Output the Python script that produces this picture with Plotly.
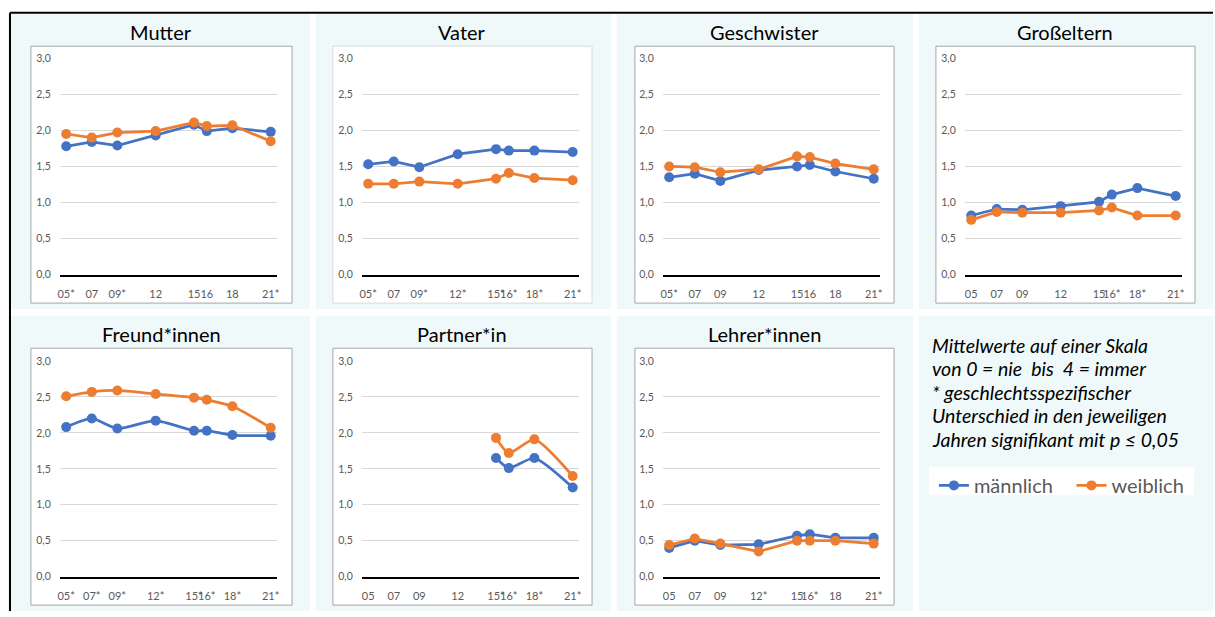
import plotly.graph_objects as go

# ---------------- data ----------------
years = [2005, 2007, 2009, 2012, 2015, 2016, 2018, 2021]

panel_titles = ["Mutter", "Vater", "Geschwister", "Großeltern",
                "Freund*innen", "Partner*in", "Lehrer*innen"]

mutter_m = [1.78, 1.84, 1.79, 1.93, 2.08, 1.99, 2.03, 1.98]
mutter_w = [1.95, 1.90, 1.97, 1.99, 2.11, 2.06, 2.07, 1.85]
vater_m = [1.53, 1.57, 1.49, 1.67, 1.74, 1.72, 1.72, 1.70]
vater_w = [1.26, 1.26, 1.29, 1.26, 1.33, 1.41, 1.34, 1.31]
geschwister_m = [1.35, 1.40, 1.30, 1.45, 1.50, 1.52, 1.43, 1.33]
geschwister_w = [1.50, 1.49, 1.42, 1.46, 1.64, 1.63, 1.54, 1.46]
grosseltern_m = [0.82, 0.91, 0.90, 0.95, 1.01, 1.11, 1.20, 1.09]
grosseltern_w = [0.76, 0.87, 0.86, 0.86, 0.89, 0.93, 0.82, 0.82]
freunde_m = [2.08, 2.20, 2.06, 2.17, 2.03, 2.03, 1.97, 1.96]
freunde_w = [2.51, 2.57, 2.59, 2.54, 2.49, 2.46, 2.37, 2.07]
partner_m = [None, None, None, None, 1.65, 1.51, 1.65, 1.24]
partner_w = [None, None, None, None, 1.93, 1.72, 1.91, 1.40]
lehrer_m = [0.40, 0.50, 0.44, 0.45, 0.57, 0.59, 0.54, 0.54]
lehrer_w = [0.44, 0.53, 0.46, 0.35, 0.50, 0.50, 0.50, 0.46]

ticks_mutter = ["05*", "07", "09*", "12", "15", "16", "18", "21*"]
ticks_vater = ["05*", "07", "09*", "12*", "15*", "16*", "18*", "21*"]
ticks_geschwister = ["05*", "07", "09", "12", "15", "16", "18", "21*"]
ticks_grosseltern = ["05", "07", "09", "12", "15", "16*", "18*", "21*"]
ticks_freunde = ["05*", "07*", "09*", "12*", "15*", "16*", "18*", "21*"]
ticks_partner = ["05", "07", "09", "12", "15*", "16*", "18*", "21*"]
ticks_lehrer = ["05", "07", "09", "12*", "15", "16*", "18", "21*"]

y_ticks = [0, 0.5, 1.0, 1.5, 2.0, 2.5, 3.0]
y_ticktext = ["0,0", "0,5", "1,0", "1,5", "2,0", "2,5", "3,0"]

series_m = [mutter_m, vater_m, geschwister_m, grosseltern_m, freunde_m, partner_m, lehrer_m]
series_w = [mutter_w, vater_w, geschwister_w, grosseltern_w, freunde_w, partner_w, lehrer_w]
tick_sets = [ticks_mutter, ticks_vater, ticks_geschwister, ticks_grosseltern,
             ticks_freunde, ticks_partner, ticks_lehrer]
smooth = [False, False, False, False, True, True, False]

note_lines = ["Mittelwerte auf einer Skala",
              "von 0 = nie  bis  4 = immer",
              "* geschlechtsspezifischer",
              "Unterschied in den jeweiligen",
              "Jahren signifikant mit p ≤ 0,05"]

# ---------------- layout geometry (pixels) ----------------
W, H = 1215, 617
BLUE, ORANGE = "#4472C4", "#ED7D31"
CYAN = "#EFF9F9"
FONT = "Lato"

grid_x0 = [58, 361, 663, 966]
grid_w = 218
row_y = [(53.3, 274), (362, 582)]
box_x = [(29, 291), (332, 592), (635, 895), (937, 1197)]
box_y = [(41, 303), (349, 611)]
panel_x = [(9, 309), (315, 611), (617, 914), (920, 1215)]
panel_y = [(8, 309), (316, 617)]
title_y = [27, 335]


def px(x):
    return x / W


def py(y):
    return 1 - y / H


fig = go.Figure()
shapes = []
annotations = []

# cyan panels
for r in range(2):
    for c in range(4):
        shapes.append(dict(type="rect", xref="paper", yref="paper",
                           x0=px(panel_x[c][0]), x1=px(panel_x[c][1]),
                           y0=py(panel_y[r][1]), y1=py(panel_y[r][0]),
                           fillcolor=CYAN, line=dict(width=0), layer="below"))

layout_axes = {}
for i in range(7):
    r, c = divmod(i, 4)
    n = i + 1
    xa = "x" if n == 1 else f"x{n}"
    ya = "y" if n == 1 else f"y{n}"
    border = "#D9D9D9" if i == 1 else "#A6A6A6"
    shapes.append(dict(type="rect", xref="paper", yref="paper",
                       x0=px(box_x[c][0]), x1=px(box_x[c][1]),
                       y0=py(box_y[r][1]), y1=py(box_y[r][0]),
                       fillcolor="white", line=dict(color=border, width=1),
                       layer="below"))
    annotations.append(dict(text=panel_titles[i], xref="paper", yref="paper",
                            x=px((box_x[c][0] + box_x[c][1]) / 2), y=py(title_y[r]),
                            xanchor="center", yanchor="middle", showarrow=False,
                            font=dict(family=FONT, size=20, color="black")))
    shape_kind = "spline" if smooth[i] else "linear"
    for vals, name, col, lg in [(series_m[i], "männlich", BLUE, "legend"),
                                (series_w[i], "weiblich", ORANGE, "legend2")]:
        fig.add_trace(go.Scatter(
            x=years, y=vals, mode="lines+markers", name=name,
            line=dict(color=col, width=2.75, shape=shape_kind, smoothing=0.6),
            marker=dict(color=col, size=10),
            xaxis=xa, yaxis=ya, showlegend=(i == 0), legend=lg, cliponaxis=False,
            connectgaps=False))
    layout_axes["xaxis" if n == 1 else f"xaxis{n}"] = dict(
        domain=[px(grid_x0[c]), px(grid_x0[c] + grid_w)],
        range=[2004.5, 2021.5], anchor=ya,
        tickmode="array", tickvals=years, ticktext=tick_sets[i], tickangle=0,
        showgrid=False, zeroline=False, showline=True, linecolor="black", linewidth=2,
        ticks="", ticklabelstandoff=8,
        tickfont=dict(family=FONT, size=11, color="#595959"), fixedrange=True)
    layout_axes["yaxis" if n == 1 else f"yaxis{n}"] = dict(
        domain=[py(row_y[r][1]), py(row_y[r][0])],
        range=[0, 3], anchor=xa,
        tickmode="array", tickvals=y_ticks, ticktext=y_ticktext,
        showgrid=True, gridcolor="#D9D9D9", gridwidth=1, zeroline=False,
        showline=False, ticks="", ticklabelstandoff=8,
        tickfont=dict(family=FONT, size=10.5, color="#595959"), fixedrange=True)

# black frame lines
shapes.append(dict(type="line", xref="paper", yref="paper",
                   x0=px(8), x1=px(W), y0=py(7), y1=py(7),
                   line=dict(color="black", width=2)))
shapes.append(dict(type="line", xref="paper", yref="paper",
                   x0=px(8), x1=px(8), y0=py(7), y1=py(H),
                   line=dict(color="black", width=2)))

# note text
for k, line in enumerate(note_lines):
    annotations.append(dict(text=f"<i>{line}</i>", xref="paper", yref="paper",
                            x=px(931), y=py(346 + 24 * k), xanchor="left", yanchor="middle",
                            showarrow=False, font=dict(family=FONT, size=19.5, color="black")))

# legend background
shapes.append(dict(type="rect", xref="paper", yref="paper",
                   x0=px(930), x1=px(1196), y0=py(499), y1=py(470),
                   fillcolor="white", line=dict(width=0), layer="below"))

legend_common = dict(orientation="h", yanchor="top", xanchor="left", y=py(469),
                     bgcolor="rgba(0,0,0,0)", itemwidth=30,
                     font=dict(family=FONT, size=20, color="#595959"))

fig.update_layout(
    width=W, height=H, margin=dict(l=0, r=0, t=0, b=0),
    paper_bgcolor="white", plot_bgcolor="rgba(0,0,0,0)",
    shapes=shapes, annotations=annotations,
    legend=dict(x=px(935), **legend_common),
    legend2=dict(x=px(1073), **legend_common),
    **layout_axes)

fig.write_html("out.html", config={"displayModeBar": False},
               post_script="document.body.style.margin='0';document.body.style.overflow='hidden';")
